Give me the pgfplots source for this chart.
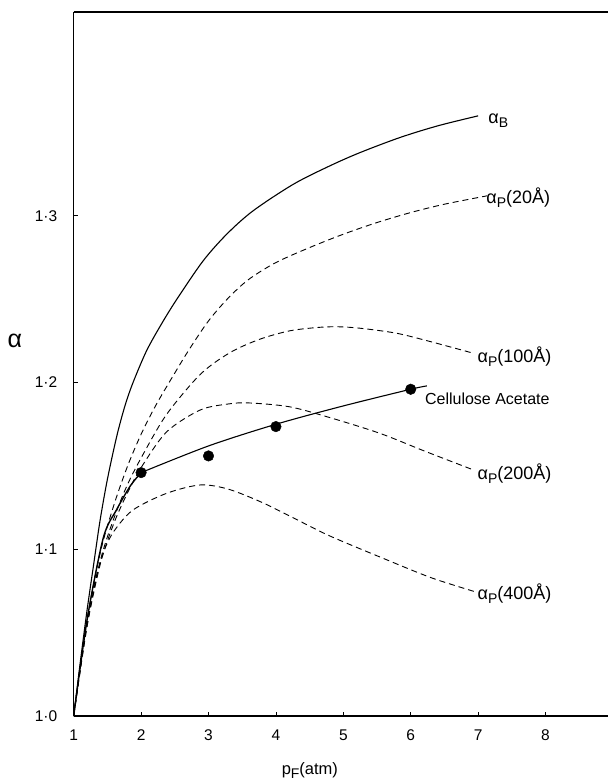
\documentclass[border=0pt]{standalone}
\usepackage{fontspec}
\setmainfont{Liberation Sans}
\usepackage{pgfplots}
\pgfplotsset{compat=1.18}
\newcommand\sub[1]{\raisebox{-0.45ex}{\fontsize{14}{14}\selectfont #1}}
\newcommand\lab{\fontsize{18}{20}\selectfont}
\begin{document}
\begin{tikzpicture}
\begin{axis}[
  name=ax,
  scale only axis,
  width=534.3pt, height=704pt,
  xmin=1, xmax=8.927, ymin=1.0, ymax=1.4223,
  axis x line=box, axis y line=left,
  axis line style={-, line width=1.1pt},
  tick align=inside,
  xtick pos=bottom, ytick pos=left,
  major tick length=4pt,
  tick style={line width=0.8pt, black},
  xtick={1,2,3,4,5,6,7,8},
  xticklabels={1,2,3,4,5,6,7,8},
  ytick={1.0,1.1,1.2,1.3},
  yticklabels={1·0,1·1,1·2,1·3},
  ticklabel style={font=\fontsize{15.5}{17}\selectfont},
  yticklabel style={xshift=-13pt},
  xticklabel style={yshift=-10pt},
  xlabel={p\sub{F}(atm)},
  xlabel style={font=\fontsize{16.5}{18}\selectfont, at={(axis description cs:0.442,-0.078)}, anchor=center},
  ylabel={α},
  ylabel style={font=\fontsize{25}{27}\selectfont, rotate=-90, at={(axis description cs:-0.11,0.533)}, anchor=center},
  clip=false,
]
% alpha_B
\addplot[black, line width=1.1pt, smooth] coordinates {
 (1,1.0) (1.1,1.033) (1.2,1.064) (1.3,1.092) (1.39,1.117) (1.5,1.142)
 (1.64,1.168) (1.76,1.186) (1.88,1.200) (2.08,1.219) (2.3,1.235) (2.53,1.250)
 (2.92,1.273) (3.27,1.289) (3.66,1.303) (4.26,1.319) (4.8,1.330) (5.25,1.338)
 (5.84,1.347) (6.4,1.354) (7.0,1.360)};
% alpha_P(20A)
\addplot[black, line width=0.9pt, dash pattern=on 6pt off 4pt, smooth] coordinates {
 (1,1.0) (1.2,1.058) (1.4,1.099) (1.6,1.127) (1.8,1.150) (2.0,1.169) (2.2,1.185)
 (2.4,1.199) (2.7,1.219) (3.0,1.237) (3.3,1.251) (3.6,1.262) (4.0,1.272)
 (4.5,1.281) (5.0,1.289) (5.5,1.296) (6.0,1.302) (6.5,1.307) (7.13,1.312)};
% alpha_P(100A)
\addplot[black, line width=0.9pt, dash pattern=on 6pt off 4pt, smooth] coordinates {
 (1,1.0) (1.2,1.055) (1.4,1.094) (1.6,1.119) (1.8,1.139) (2.03,1.157) (2.38,1.181)
 (2.88,1.205) (3.32,1.218) (3.76,1.226) (4.2,1.231) (4.6,1.233) (4.9,1.2335)
 (5.25,1.2326) (5.79,1.2296) (6.3,1.2245) (6.93,1.2176)};
% alpha_P(200A)
\addplot[black, line width=0.9pt, dash pattern=on 6pt off 4pt, smooth] coordinates {
 (1,1.0) (1.2,1.054) (1.4,1.092) (1.6,1.116) (1.8,1.134) (2.0,1.149) (2.38,1.1705)
 (2.88,1.1836) (3.3,1.1872) (3.6,1.1878) (4.2,1.1855) (4.8,1.179) (5.54,1.1696)
 (6.2,1.159) (6.93,1.1476)};
% alpha_P(400A)
\addplot[black, line width=0.9pt, dash pattern=on 6pt off 4pt, smooth] coordinates {
 (1,1.0) (1.15,1.045) (1.3,1.078) (1.45,1.099) (1.6,1.111) (1.88,1.1236) (2.38,1.1336)
 (2.88,1.1386) (3.3,1.136) (3.8,1.128) (4.3,1.118) (4.8,1.108) (5.59,1.0946)
 (6.3,1.083) (6.95,1.0746)};
% cellulose acetate line
\addplot[black, line width=1.4pt, smooth] coordinates {
 (1,1.0) (1.2,1.058) (1.44,1.107) (1.64,1.124) (1.84,1.138) (2.0,1.146)};
\addplot[black, line width=1.1pt, smooth] coordinates {
 (2.0,1.146) (3,1.162) (4,1.175) (5,1.186) (6,1.196) (6.24,1.198)};
% measured points
\addplot[only marks, mark=*, mark size=5.3pt, black] coordinates {
 (2,1.146) (3,1.156) (4,1.1736) (6,1.196)};
% labels
\node[anchor=west, font=\lab, inner sep=0pt] at (axis cs:7.15,1.357) {α\sub{B}};
\node[anchor=west, font=\lab, inner sep=0pt] at (axis cs:7.12,1.311) {α\sub{P}(20Å)};
\node[anchor=west, font=\lab, inner sep=0pt] at (axis cs:6.99,1.2155) {α\sub{P}(100Å)};
\node[anchor=west, font=\lab, inner sep=0pt] at (axis cs:6.99,1.1455) {α\sub{P}(200Å)};
\node[anchor=west, font=\lab, inner sep=0pt] at (axis cs:6.99,1.0735) {α\sub{P}(400Å)};
\node[anchor=west, font=\fontsize{16}{18}\selectfont, inner sep=0pt] at (axis cs:6.21,1.1905) {Cellulose Acetate};
\end{axis}
\pgfresetboundingbox
\path ([shift={(-73.7pt,-67pt)}]ax.south west) rectangle ([shift={(0pt,12pt)}]ax.north east);
\end{tikzpicture}
\end{document}
